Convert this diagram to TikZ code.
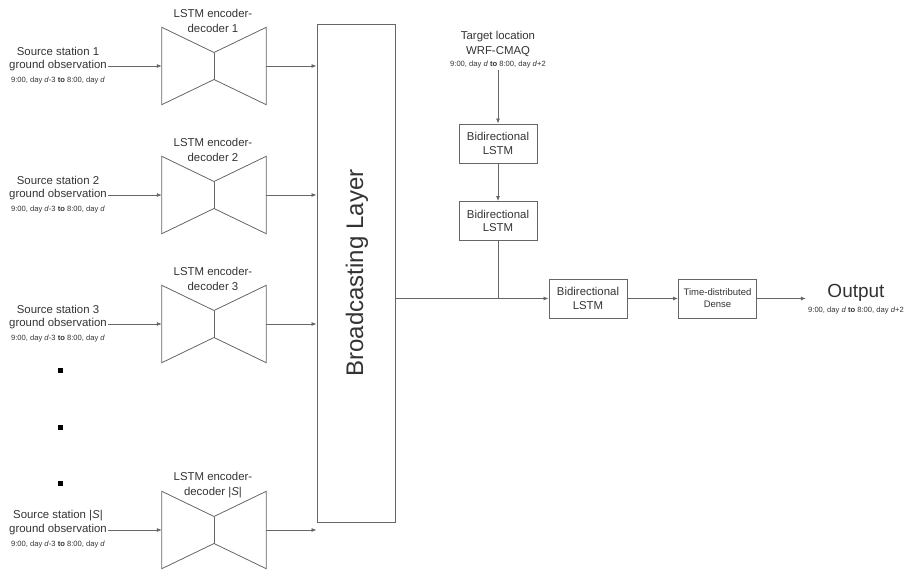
\documentclass[tikz,border=0pt]{standalone}
\usepackage{fontspec}
\setmainfont{Liberation Sans}
\usetikzlibrary{arrows.meta}

\definecolor{linegray}{HTML}{666666}
\definecolor{txtgray}{HTML}{333333}

\tikzset{
  lstmbox/.style={draw=linegray, line width=0.9pt, minimum width=78pt, minimum height=39pt,
    inner sep=1pt, align=center, text=txtgray, font=\fontsize{11.4}{13.5}\selectfont},
  encspace/.style={minimum width=104pt, minimum height=77pt, inner sep=0pt},
  lbl/.style={inner sep=1pt, align=center, text=txtgray, font=\fontsize{11.4}{15}\selectfont},
  smalltxt/.style={inner sep=0pt, text=txtgray, font=\fontsize{7.6}{9}\selectfont},
  link/.style={draw=linegray, line width=0.8pt, -{Latex[length=5pt,width=4pt]}},
  wire/.style={draw=linegray, line width=0.8pt},
  dotmark/.style={fill=black, minimum size=5pt, inner sep=0pt},
}

% bow-tie shape of an encoder-decoder, drawn on an empty node
\newcommand{\encshape}[1]{%
  \draw[wire] (#1.north west) -- ([yshift=13.5pt]#1.center) -- (#1.north east)
    -- (#1.south east) -- ([yshift=-13.5pt]#1.center) -- (#1.south west) -- cycle;
  \draw[wire] ([yshift=13.5pt]#1.center) -- ([yshift=-13.5pt]#1.center);
}
\newcommand{\srcrange}{9:00, day \textit{d}-3 \textbf{to} 8:00, day \textit{d}}
\newcommand{\tgtrange}{9:00, day \textit{d} \textbf{to} 8:00, day \textit{d}+2}

\begin{document}
\begin{tikzpicture}[x=1pt, y=-1pt]
\useasboundingbox (0,0) rectangle (906,570);

    % encoders
    \node[encspace] (enc1) at (214,66) {};
    \node[encspace] (enc2) at (214,195) {};
    \node[encspace] (enc3) at (214,324) {};
    \node[encspace] (encS) at (214,530) {};
    \encshape{enc1}
    \encshape{enc2}
    \encshape{enc3}
    \encshape{encS}

    \node[lbl] (enc1lbl) at (213,20.5) {LSTM encoder-\\decoder 1};
    \node[lbl] (enc2lbl) at (213,150) {LSTM encoder-\\decoder 2};
    \node[lbl] (enc3lbl) at (213,279) {LSTM encoder-\\decoder 3};
    \node[lbl] (encSlbl) at (213,485) {LSTM encoder-\\decoder |\textit{S}|};

    % source stations
    \node[lbl] (src1top) at (58,51.5) {Source station 1};
    \node[lbl] (src1) at (58,66) {ground observation};
    \node[smalltxt] (src1rng) at (58,81) {\srcrange};

    \node[lbl] (src2top) at (58,180.5) {Source station 2};
    \node[lbl] (src2) at (58,195) {ground observation};
    \node[smalltxt] (src2rng) at (58,210) {\srcrange};

    \node[lbl] (src3top) at (58,309.5) {Source station 3};
    \node[lbl] (src3) at (58,324) {ground observation};
    \node[smalltxt] (src3rng) at (58,339) {\srcrange};

    \node[lbl] (srcStop) at (58,515.5) {Source station |\textit{S}|};
    \node[lbl] (srcS) at (58,530) {ground observation};
    \node[smalltxt] (srcSrng) at (58,545) {\srcrange};

    \node[dotmark] (dot1) at (60,370) {};
    \node[dotmark] (dot2) at (60,427) {};
    \node[dotmark] (dot3) at (60,483) {};

    % broadcasting layer
    \node[draw=linegray, line width=0.9pt, minimum width=78pt, minimum height=498pt] (bcast) at (356,273) {};
    \node[rotate=90, text=txtgray, font=\fontsize{24}{27}\selectfont] (bcastlbl) at ([xshift=1pt]bcast.center) {Broadcasting Layer};

    % target branch
    \node[lbl] (tgt) at (498,50) {Target location\\WRF-CMAQ\\[-3pt]{\fontsize{7.6}{9}\selectfont\tgtrange}};
    \node[lstmbox] (bl1) at (498,143.5) {Bidirectional\\LSTM};
    \node[lstmbox] (bl2) at (498,221) {Bidirectional\\LSTM};
    \node[lstmbox] (bl3) at (588,298.5) {Bidirectional\\LSTM};
    \node[lstmbox, font=\fontsize{9.5}{12}\selectfont] (dense) at (717.5,298.5) {Time-distributed\\Dense};
    \node[align=center, inner sep=2pt, text=txtgray] (out) at (856,299)
        {{\fontsize{19}{22}\selectfont Output}\\[3pt]{\fontsize{7.6}{9}\selectfont\tgtrange}};

    % connectors
    \draw[link] (src1.east) -- (src1.east -| enc1.west);
    \draw[link] (src2.east) -- (src2.east -| enc2.west);
    \draw[link] (src3.east) -- (src3.east -| enc3.west);
    \draw[link] (srcS.east) -- (srcS.east -| encS.west);

    \draw[link] (enc1.east) -- (enc1.east -| bcast.west);
    \draw[link] (enc2.east) -- (enc2.east -| bcast.west);
    \draw[link] (enc3.east) -- (enc3.east -| bcast.west);
    \draw[link] (encS.east) -- (encS.east -| bcast.west);

    \draw[link] (tgt.south) -- (bl1.north);
    \draw[link] (bl1.south) -- (bl2.north);
    \draw[wire] (bl2.south) -- (bl2.south |- bl3.west);
    \draw[link] (bcast.east |- bl3.west) -- (bl3.west);
    \draw[link] (bl3.east) -- (dense.west);
    \draw[link] (dense.east) -- (dense.east -| out.west);
\end{tikzpicture}
\end{document}
